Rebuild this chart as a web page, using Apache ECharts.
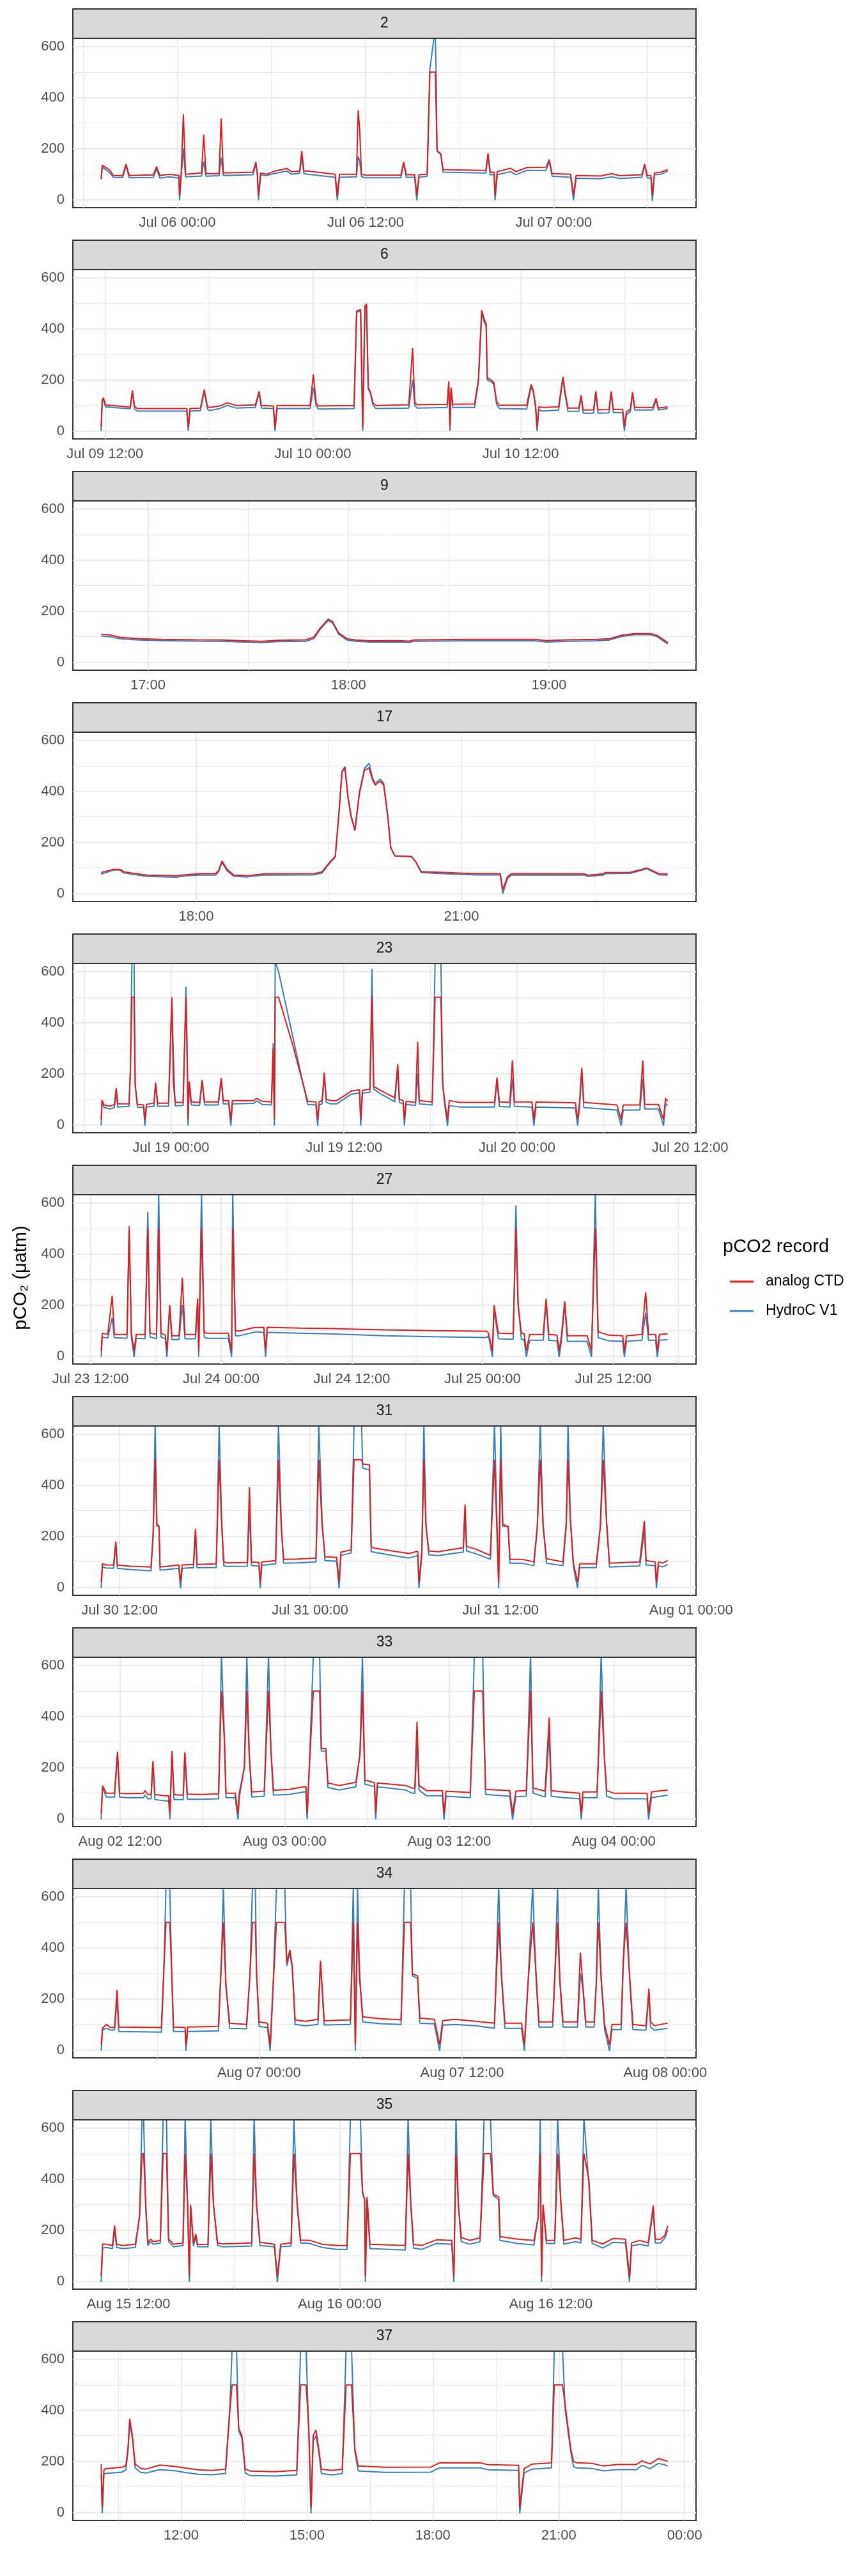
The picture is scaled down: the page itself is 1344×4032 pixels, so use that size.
<!DOCTYPE html>
<html><head><meta charset="utf-8">
<script src="https://cdn.jsdelivr.net/npm/echarts@6/dist/echarts.min.js"></script>
<style>html,body{margin:0;padding:0;background:#fff}#c{width:1344px;height:4032px}</style>
</head><body><div id="c"></div>
<script>
const FONT = '"Liberation Sans", Arial, Helvetica, sans-serif';
const panelIds = ['2','6','9','17','23','27','31','33','34','35','37'];
const seriesNames = ['analog CTD','HydroC V1'];
const seriesColors = ['#E41A1C','#377EB8'];

// rows: [hours from panel reference time, analog CTD pCO2, HydroC V1 pCO2]
const p2 = [[-4.86,82,80],[-4.79,135,128],[-4.72,140,132],[-4.3,115,105],[-4.09,95,88],[-3.49,95,87],[-3.28,140,132],[-3.07,95,86],[-1.54,97,87],[-1.33,130,122],[-1.12,95,85],[-0.5,100,90],[0.1,95,85],[0.14,18,-2],[0.24,100,90],[0.38,335,200],[0.52,100,90],[1.54,105,93],[1.68,255,150],[1.82,102,92],[2.66,102,94],[2.79,318,165],[2.93,105,95],[4.82,108,98],[5.0,148,140],[5.10,105,95],[5.17,18,-2],[5.31,105,97],[5.69,100,95],[6.22,112,103],[6.99,122,112],[7.27,110,100],[7.80,112,104],[7.93,190,165],[8.07,112,102],[8.31,112,100],[10.06,100,88],[10.20,18,-2],[10.34,100,88],[11.42,100,90],[11.53,350,170],[11.63,270,150],[11.74,100,90],[11.98,96,86],[14.25,96,86],[14.43,148,140],[14.60,98,88],[15.13,98,88],[15.27,18,-2],[15.41,98,88],[15.93,100,92],[16.10,500,510],[16.35,500,628],[16.45,500,640],[16.50,500,500],[16.56,192,190],[16.80,180,178],[16.94,118,108],[19.49,115,105],[19.67,115,105],[19.81,182,172],[19.95,108,98],[20.20,108,98],[20.26,18,-2],[20.40,110,98],[21.24,123,110],[21.59,110,98],[22.29,126,115],[23.51,127,115],[23.72,157,150],[23.90,102,92],[25.08,100,88],[25.26,18,-2],[25.43,95,84],[27.0,93,82],[27.70,102,90],[28.2,94,83],[29.62,98,88],[29.80,140,135],[29.97,95,85],[30.20,95,85],[30.29,18,-5],[30.43,105,98],[30.85,108,100],[31.27,118,112]];
const p6 = [[-0.22,15,0],[-0.16,122,118],[-0.09,130,125],[0.03,102,95],[1.23,95,88],[1.46,95,88],[1.58,158,150],[1.71,95,86],[1.87,88,78],[2.82,88,78],[4.72,88,78],[4.81,15,0],[4.91,88,78],[5.51,90,80],[5.73,162,155],[5.92,95,85],[6.05,92,80],[6.62,98,88],[7.06,110,100],[7.57,100,90],[8.68,102,92],[8.90,155,148],[9.03,100,90],[9.72,98,88],[9.82,15,0],[9.94,100,88],[11.84,100,88],[12.03,222,170],[12.19,110,100],[12.32,98,86],[14.38,100,88],[14.53,470,465],[14.76,475,470],[14.88,15,0],[15.01,490,480],[15.10,498,490],[15.20,170,165],[15.32,153,148],[15.48,110,100],[15.64,100,88],[17.54,103,90],[17.76,325,200],[17.89,110,100],[18.02,103,90],[19.76,105,92],[19.85,195,185],[19.92,15,0],[19.98,170,160],[20.08,105,92],[21.34,106,92],[21.56,200,190],[21.75,473,460],[21.88,441,430],[22.01,420,410],[22.07,208,200],[22.29,200,193],[22.45,190,183],[22.61,115,105],[22.77,101,88],[24.35,101,86],[24.60,182,172],[24.73,160,152],[24.86,100,90],[24.95,15,0],[25.05,95,82],[25.30,92,78],[26.19,95,82],[26.44,212,202],[26.57,150,140],[26.73,90,77],[27.36,90,77],[27.49,140,135],[27.61,82,70],[28.21,83,70],[28.34,155,150],[28.47,83,70],[29.10,84,71],[29.23,155,150],[29.35,85,72],[29.89,85,72],[29.99,20,0],[30.11,75,65],[30.33,85,75],[30.46,152,145],[30.59,92,82],[31.63,92,82],[31.82,128,122],[31.95,90,82],[32.49,95,88]];
const p9 = [[-0.233,110,103],[-0.191,107,100],[-0.139,98,92],[-0.046,92,87],[0.069,90,85],[0.245,88,83],[0.370,87,82],[0.453,85,80],[0.567,82,77],[0.650,86,81],[0.785,88,82],[0.827,98,92],[0.858,133,128],[0.899,169,163],[0.920,160,155],[0.951,115,110],[0.993,92,87],[1.034,87,82],[1.107,84,79],[1.242,85,80],[1.304,83,78],[1.325,87,82],[1.595,90,84],[1.927,90,84],[1.990,85,79],[2.093,88,82],[2.239,90,84],[2.301,92,87],[2.363,106,101],[2.426,112,108],[2.509,112,108],[2.540,105,100],[2.592,77,72]];
const p17 = [[-1.074,80,75],[-1.050,85,79],[-0.933,95,92],[-0.862,95,92],[-0.815,85,80],[-0.556,72,67],[-0.226,70,64],[-0.085,75,70],[0.057,78,73],[0.221,78,72],[0.254,90,86],[0.292,127,122],[0.349,95,90],[0.424,73,68],[0.575,70,65],[0.763,77,72],[1.328,78,73],[1.423,85,80],[1.507,121,118],[1.573,146,143],[1.611,300,300],[1.649,475,478],[1.682,493,497],[1.715,380,385],[1.752,300,305],[1.795,247,250],[1.846,392,398],[1.903,483,490],[1.955,492,510],[1.997,443,450],[2.025,425,432],[2.082,440,448],[2.120,425,432],[2.167,300,305],[2.200,179,182],[2.247,147,147],[2.435,145,145],[2.482,125,125],[2.544,86,82],[2.789,83,78],[3.165,78,73],[3.439,78,73],[3.467,15,0],[3.519,65,58],[3.566,78,73],[4.390,77,72],[4.437,72,67],[4.602,77,72],[4.626,82,78],[4.908,83,79],[5.097,100,97],[5.238,77,73],[5.332,77,72]];
const p23 = [[-4.84,20,-3],[-4.78,96,90],[-4.64,78,68],[-4.21,73,62],[-3.92,80,68],[-3.80,143,130],[-3.69,82,70],[-2.91,82,72],[-2.82,200,210],[-2.71,500,640],[-2.56,500,640],[-2.48,150,160],[-2.33,80,70],[-1.90,78,68],[-1.81,20,-3],[-1.70,80,70],[-1.18,85,73],[-1.07,165,160],[-0.92,85,73],[-0.17,85,73],[0.06,500,480],[0.17,160,270],[0.29,88,75],[0.84,88,76],[1.04,500,540],[1.15,170,200],[1.18,20,-3],[1.27,170,160],[1.41,90,78],[1.99,88,76],[2.16,175,170],[2.33,90,78],[3.28,90,78],[3.49,183,175],[3.63,95,82],[4.00,95,82],[4.15,20,-3],[4.26,95,82],[5.73,95,84],[5.96,104,94],[6.31,92,80],[6.97,90,78],[7.09,300,320],[7.17,20,-3],[7.23,500,640],[7.46,500,600],[8.47,308,340],[9.48,92,80],[10.05,90,78],[10.17,20,-3],[10.28,90,78],[10.48,95,82],[10.63,205,190],[10.77,100,88],[11.06,95,82],[11.49,95,82],[11.92,110,98],[12.50,132,120],[13.08,137,125],[13.16,20,-3],[13.28,135,124],[13.80,140,128],[13.94,500,610],[14.06,150,140],[14.52,135,122],[15.38,110,95],[15.52,105,90],[15.73,237,220],[15.84,100,88],[16.10,95,82],[16.19,20,-3],[16.30,92,80],[16.96,88,76],[17.11,325,200],[17.22,95,82],[18.12,90,78],[18.32,500,640],[18.72,500,640],[18.84,160,165],[18.98,95,80],[19.18,20,-3],[19.30,95,75],[19.99,88,70],[22.44,88,70],[22.61,185,175],[22.78,90,72],[23.50,88,70],[23.68,253,180],[23.82,90,72],[25.03,90,70],[25.17,20,-3],[25.32,90,70],[28.05,86,66],[28.20,20,-3],[28.34,90,72],[28.49,223,215],[28.63,88,68],[30.93,78,58],[31.22,20,-3],[31.37,78,58],[32.52,78,58],[32.72,252,180],[32.86,80,62],[33.81,80,62],[34.16,20,-3],[34.30,104,85],[34.45,92,75]];
const p27 = [[-11.02,20,-3],[-10.92,90,75],[-10.42,85,70],[-10.01,236,150],[-9.81,85,72],[-8.65,85,70],[-8.45,500,510],[-8.25,90,75],[-8.00,20,-3],[-7.80,85,70],[-6.99,85,68],[-6.74,500,565],[-6.54,90,75],[-5.94,85,68],[-5.74,500,640],[-5.53,90,75],[-5.13,82,68],[-4.98,20,-3],[-4.73,200,190],[-4.53,80,65],[-3.87,80,65],[-3.57,307,200],[-3.32,85,68],[-2.36,85,68],[-2.16,225,210],[-2.06,20,-3],[-1.81,500,640],[-1.56,95,75],[-1.36,90,70],[0.65,90,70],[0.96,20,-3],[1.06,500,640],[1.31,100,80],[1.66,98,80],[2.92,111,92],[3.32,112,95],[3.92,113,93],[4.08,20,-3],[4.23,113,93],[7.19,110,90],[9.96,108,87],[14.99,103,80],[19.52,100,76],[24.40,97,73],[24.55,90,80],[24.91,20,-3],[25.06,200,180],[25.46,90,68],[26.82,88,66],[27.07,500,590],[27.27,200,210],[27.57,90,66],[27.82,88,64],[28.03,20,-3],[28.33,85,62],[29.58,85,62],[29.84,225,215],[30.09,85,62],[30.84,82,60],[31.04,20,-3],[31.25,80,58],[31.55,215,200],[31.80,80,58],[33.61,80,58],[34.01,20,-3],[34.36,500,640],[34.62,95,72],[35.62,82,60],[36.88,80,58],[37.03,20,-3],[37.23,80,58],[38.64,85,62],[38.99,250,170],[39.25,85,62],[39.90,85,62],[40.05,20,-3],[40.25,85,62],[41.01,88,65]];
const p31 = [[-13.16,20,-3],[-13.08,92,80],[-12.85,88,76],[-12.38,87,75],[-12.24,179,170],[-12.14,87,75],[-11.28,83,70],[-10.02,80,65],[-9.89,200,210],[-9.76,500,640],[-9.65,240,250],[-9.52,240,240],[-9.45,80,68],[-9.05,82,70],[-8.27,88,75],[-8.16,20,-3],[-8.06,88,75],[-7.35,90,77],[-7.22,229,220],[-7.12,90,77],[-5.91,92,78],[-5.73,500,640],[-5.57,250,260],[-5.44,100,85],[-5.26,96,82],[-3.95,97,83],[-3.82,392,300],[-3.69,100,86],[-3.22,97,83],[-3.14,20,-3],[-3.04,100,86],[-2.17,105,92],[-1.99,500,640],[-1.81,230,240],[-1.67,110,95],[-0.81,111,96],[0.37,115,100],[0.55,500,640],[0.76,240,260],[0.94,120,105],[1.67,118,103],[1.83,20,-3],[1.94,138,125],[2.59,147,135],[2.77,500,640],[3.24,500,640],[3.32,483,467],[3.74,480,460],[3.85,158,140],[4.03,154,138],[5.47,140,122],[6.25,133,115],[6.78,142,125],[6.86,20,-3],[7.04,140,125],[7.17,500,640],[7.30,240,250],[7.48,143,128],[8.08,140,125],[9.52,154,137],[9.65,155,138],[9.76,325,290],[9.86,160,143],[10.44,150,132],[11.36,125,110],[11.62,500,640],[11.88,20,-3],[12.01,500,640],[12.14,240,250],[12.48,240,235],[12.59,110,95],[13.32,110,95],[14.10,100,85],[14.31,233,230],[14.50,500,640],[14.68,240,250],[14.89,112,95],[15.93,100,85],[16.14,254,240],[16.25,500,640],[16.40,260,270],[16.59,95,80],[16.85,20,-3],[16.98,92,77],[18.03,92,78],[18.29,242,240],[18.47,500,640],[18.68,250,260],[18.86,95,80],[20.77,100,84],[21.06,260,220],[21.17,105,88],[21.74,100,85],[21.82,20,-3],[21.95,100,85],[22.21,95,80],[22.53,105,90]];
const p33 = [[-13.38,20,-3],[-13.28,129,122],[-13.01,100,85],[-12.41,100,85],[-12.19,262,250],[-12.04,100,85],[-11.50,98,82],[-10.28,100,82],[-10.19,110,92],[-9.98,95,78],[-9.74,95,78],[-9.61,225,215],[-9.46,95,75],[-8.77,90,70],[-8.46,90,70],[-8.37,20,-3],[-8.22,265,255],[-8.07,95,75],[-7.70,92,75],[-7.40,92,75],[-7.28,260,255],[-7.10,96,76],[-6.04,95,76],[-4.82,97,78],[-4.61,500,640],[-4.40,310,330],[-4.28,100,82],[-3.61,100,82],[-3.40,20,-3],[-3.31,100,82],[-2.94,200,200],[-2.76,500,640],[-2.58,240,250],[-2.40,105,85],[-1.49,108,88],[-1.18,500,640],[-1.00,270,260],[-0.82,111,92],[0.33,115,95],[1.40,125,105],[1.55,125,105],[1.64,20,-3],[1.73,130,110],[2.09,500,640],[2.55,500,640],[2.67,275,265],[3.00,275,265],[3.15,140,122],[3.97,130,112],[5.19,142,125],[5.49,250,260],[5.67,500,640],[5.85,150,135],[6.10,148,132],[6.55,140,125],[6.64,20,-3],[6.76,140,125],[6.85,138,122],[8.83,130,112],[9.28,120,100],[9.49,120,100],[9.65,379,300],[9.80,130,112],[10.34,110,90],[11.50,110,90],[11.62,20,-3],[11.77,108,88],[13.53,102,82],[13.83,500,640],[14.44,500,640],[14.65,115,95],[16.41,110,88],[16.62,20,-3],[16.86,108,86],[17.62,110,88],[17.93,500,640],[18.11,120,100],[18.99,108,85],[19.29,396,330],[19.44,110,88],[20.35,105,82],[21.50,100,78],[21.63,20,-3],[21.75,105,82],[22.78,105,82],[23.08,500,640],[23.30,250,260],[23.48,110,88],[23.99,100,78],[26.42,100,78],[26.54,20,-3],[26.75,105,82],[27.93,112,92]];
const p34 = [[-9.33,20,-3],[-9.25,85,78],[-9.03,100,85],[-8.79,88,78],[-8.54,88,78],[-8.39,235,200],[-8.29,90,72],[-5.77,88,70],[-5.64,300,280],[-5.50,500,640],[-5.28,500,640],[-5.15,280,270],[-5.06,90,72],[-4.37,88,72],[-4.32,20,-3],[-4.22,90,72],[-2.40,92,75],[-2.23,350,330],[-2.11,500,640],[-1.96,250,260],[-1.74,105,85],[-0.74,100,83],[-0.54,290,290],[-0.39,500,640],[-0.22,500,640],[-0.15,300,310],[0.00,110,92],[0.49,105,88],[0.66,20,-3],[0.83,250,250],[1.03,500,640],[1.52,500,640],[1.64,342,330],[1.82,392,380],[1.96,330,320],[2.13,117,100],[2.75,112,95],[3.48,120,100],[3.63,350,340],[3.85,115,98],[4.02,115,98],[5.40,118,100],[5.57,500,640],[5.69,20,-3],[5.82,500,640],[5.94,280,300],[6.13,130,110],[7.17,122,103],[8.39,118,100],[8.59,500,640],[8.96,500,640],[9.06,298,290],[9.37,290,280],[9.50,125,105],[10.36,120,102],[10.67,20,-3],[10.85,115,97],[11.58,120,100],[12.81,112,95],[13.91,105,85],[14.16,500,640],[14.33,290,280],[14.53,105,85],[15.51,105,85],[15.68,20,-3],[15.88,250,240],[16.17,500,640],[16.37,300,280],[16.54,110,90],[17.35,110,90],[17.47,280,270],[17.64,500,640],[17.77,280,270],[17.96,110,90],[18.82,110,90],[18.99,381,300],[19.14,250,240],[19.31,110,90],[19.80,110,90],[19.93,260,260],[20.05,500,640],[20.22,280,270],[20.42,100,80],[20.71,20,-3],[20.86,100,80],[21.40,100,80],[21.52,340,330],[21.69,500,640],[21.89,300,290],[22.09,100,80],[22.87,95,77],[23.04,240,220],[23.14,110,90],[23.36,95,77],[24.15,105,85]];
const p35 = [[-13.55,20,-3],[-13.47,146,130],[-13.26,145,132],[-12.91,140,128],[-12.79,218,200],[-12.67,145,132],[-12.32,140,128],[-11.61,145,132],[-11.37,250,260],[-11.23,500,640],[-11.14,500,640],[-11.02,300,290],[-10.90,150,140],[-10.74,165,155],[-10.60,155,145],[-10.19,160,150],[-10.03,500,640],[-9.84,500,640],[-9.72,165,155],[-9.44,145,135],[-8.90,150,140],[-8.78,500,640],[-8.64,300,300],[-8.54,20,-3],[-8.47,300,290],[-8.31,150,138],[-8.17,185,175],[-8.07,144,135],[-7.48,145,135],[-7.32,500,640],[-7.17,300,300],[-6.94,150,140],[-6.65,146,135],[-5.00,150,138],[-4.86,500,640],[-4.72,300,300],[-4.53,152,140],[-3.71,145,135],[-3.54,20,-3],[-3.35,145,135],[-2.76,150,138],[-2.60,500,640],[-2.41,300,290],[-2.22,161,150],[-1.70,160,148],[-0.99,145,132],[-0.17,140,125],[0.42,140,125],[0.61,500,640],[1.18,500,640],[1.30,350,345],[1.42,320,320],[1.46,20,-3],[1.56,330,320],[1.72,145,128],[2.78,142,125],[3.73,140,122],[3.89,500,640],[4.04,308,300],[4.20,145,130],[4.67,140,125],[5.50,162,148],[6.37,160,145],[6.49,20,-3],[6.61,500,640],[6.75,300,290],[6.91,171,155],[7.39,160,145],[7.98,170,155],[8.21,500,640],[8.57,500,640],[8.73,340,335],[9.04,330,320],[9.11,175,160],[10.10,165,148],[11.04,160,142],[11.28,250,250],[11.40,500,640],[11.47,20,-3],[11.56,300,290],[11.75,160,148],[12.22,160,148],[12.39,500,640],[12.58,300,290],[12.74,160,145],[13.05,165,150],[13.40,170,155],[13.71,165,150],[13.88,500,640],[14.16,400,380],[14.35,160,148],[14.94,146,130],[15.53,167,152],[16.24,165,150],[16.47,20,-3],[16.59,150,138],[17.06,160,145],[17.53,150,138],[17.82,296,280],[17.93,165,150],[18.24,165,150],[18.48,180,170],[18.64,217,200]];
const p37 = [[-1.906,190,150],[-1.880,20,-3],[-1.841,165,152],[-1.815,171,155],[-1.423,177,158],[-1.319,183,165],[-1.267,250,240],[-1.227,367,350],[-1.162,300,290],[-1.097,190,175],[-0.966,173,157],[-0.836,170,155],[-0.509,186,168],[-0.118,180,163],[0.078,175,157],[0.405,167,150],[0.731,165,148],[1.058,170,153],[1.162,400,420],[1.214,500,640],[1.319,500,640],[1.371,330,320],[1.449,300,290],[1.528,170,155],[1.645,162,145],[2.233,160,143],[2.755,165,147],[2.847,500,640],[2.977,500,640],[3.043,330,310],[3.095,20,-3],[3.147,300,280],[3.212,323,300],[3.278,250,240],[3.343,169,152],[3.604,165,147],[3.839,170,152],[3.931,500,640],[4.061,500,640],[4.139,250,240],[4.218,182,163],[4.845,177,157],[5.955,178,158],[6.150,194,175],[7.130,194,175],[7.326,187,167],[8.044,185,165],[8.070,20,-3],[8.174,172,155],[8.370,190,170],[8.827,194,175],[8.893,500,640],[9.089,500,640],[9.154,419,400],[9.284,250,240],[9.350,200,180],[9.415,195,175],[9.807,192,172],[10.068,182,163],[10.394,188,168],[10.851,188,168],[10.982,202,185],[11.178,190,172],[11.374,211,192],[11.504,205,188],[11.596,200,182]];
const panelData = [p2,p6,p9,p17,p23,p27,p31,p33,p34,p35,p37];

// x tick positions (hours from each panel's reference time) and their labels
const tickHours = [[0,12,24],[0,12,24],[0,1,2],[0,3],[0,12,24,36],[-12,0,12,24,36],[-12,0,12,24],[-12,0,12,24],[0,12,24],[-12,0,12],[0,3,6,9,12]];
const tickLabels = [
  ['Jul 06 00:00','Jul 06 12:00','Jul 07 00:00'],
  ['Jul 09 12:00','Jul 10 00:00','Jul 10 12:00'],
  ['17:00','18:00','19:00'],
  ['18:00','21:00'],
  ['Jul 19 00:00','Jul 19 12:00','Jul 20 00:00','Jul 20 12:00'],
  ['Jul 23 12:00','Jul 24 00:00','Jul 24 12:00','Jul 25 00:00','Jul 25 12:00'],
  ['Jul 30 12:00','Jul 31 00:00','Jul 31 12:00','Aug 01 00:00'],
  ['Aug 02 12:00','Aug 03 00:00','Aug 03 12:00','Aug 04 00:00'],
  ['Aug 07 00:00','Aug 07 12:00','Aug 08 00:00'],
  ['Aug 15 12:00','Aug 16 00:00','Aug 16 12:00'],
  ['12:00','15:00','18:00','21:00','00:00']
];
const minorHours = [[-6,6,18,30],[-6,6,18,30],[-0.5,0.5,1.5,2.5],[-1.5,1.5,4.5],[-6,6,18,30],[-6,6,18,30,42],[-18,-6,6,18],[-6,6,18,30],[-6,6,18],[-6,6,18],[-1.5,1.5,4.5,7.5,10.5]];
const yTicks = [0,200,400,600];
const yMinor = [100,300,500];

const L = 114, W = 975, H = 265, STEP = 362, STRIP_TOP = 14, STRIP_H = 46;
const grids = [], xAxes = [], yAxes = [], series = [], graphics = [];

panelData.forEach((rows, i) => {
  const t0 = rows[0][0], t1 = rows[rows.length - 1][0], pad = 0.05 * (t1 - t0);
  const xmin = t0 - pad, xmax = t1 + pad;
  const top = STRIP_TOP + STEP * i + STRIP_H;
  grids.push({left: L, top: top, width: W, height: H, show: true, backgroundColor: '#fff', borderColor: '#333333', borderWidth: 2});
  xAxes.push({type: 'value', gridIndex: i, min: xmin, max: xmax,
    axisLine: {show: false}, splitLine: {show: false},
    axisTick: {show: true, customValues: tickHours[i], length: 7, lineStyle: {color: '#333333', width: 2}},
    axisLabel: {show: true, customValues: tickHours[i], margin: 13, color: '#4D4D4D', fontSize: 22, fontFamily: FONT, hideOverlap: false,
      formatter: (v) => { const k = tickHours[i].findIndex(t => Math.abs(t - v) < 1e-6); return k >= 0 ? tickLabels[i][k] : ''; }}
  });
  yAxes.push({type: 'value', gridIndex: i, min: -31, max: 632,
    axisLine: {show: false}, splitLine: {show: false},
    axisTick: {show: true, customValues: yTicks, length: 7, lineStyle: {color: '#333333', width: 2}},
    axisLabel: {show: true, customValues: yTicks, margin: 13, color: '#4D4D4D', fontSize: 22, fontFamily: FONT}
  });
  const gl = [];
  minorHours[i].filter(v => v > xmin && v < xmax).forEach(v => gl.push({xAxis: v, lineStyle: {color: '#EBEBEB', width: 1, type: 'solid'}}));
  yMinor.forEach(v => gl.push({yAxis: v, lineStyle: {color: '#EBEBEB', width: 1, type: 'solid'}}));
  tickHours[i].forEach(v => gl.push({xAxis: v, lineStyle: {color: '#EBEBEB', width: 2, type: 'solid'}}));
  yTicks.forEach(v => gl.push({yAxis: v, lineStyle: {color: '#EBEBEB', width: 2, type: 'solid'}}));
  series.push({type: 'line', xAxisIndex: i, yAxisIndex: i, data: [[xmin, -31]], silent: true, z: 1,
    symbol: 'none', lineStyle: {width: 0, opacity: 0}, tooltip: {show: false},
    markLine: {silent: true, symbol: ['none', 'none'], label: {show: false}, animation: false, z: 1, data: gl}
  });
  // HydroC V1 first, analog CTD drawn on top
  [2, 1].forEach(col => {
    series.push({type: 'line', name: seriesNames[col - 1], xAxisIndex: i, yAxisIndex: i,
      data: rows.map(r => [r[0], r[col]]), showSymbol: false, symbol: 'none', clip: true,
      lineStyle: {color: seriesColors[col - 1], width: 2}, itemStyle: {color: seriesColors[col - 1]},
      z: col === 1 ? 4 : 3, animation: false});
  });
  const sy = STRIP_TOP + STEP * i;
  graphics.push({type: 'rect', shape: {x: L, y: sy, width: W, height: STRIP_H}, style: {fill: '#D9D9D9', stroke: '#333333', lineWidth: 2}, z: 10, silent: true});
  graphics.push({type: 'text', x: L + W / 2, y: sy + STRIP_H / 2, z: 11, silent: true,
    style: {text: panelIds[i], fill: '#1A1A1A', font: '23px ' + FONT, textAlign: 'center', textVerticalAlign: 'middle', verticalAlign: 'middle'}});
});

graphics.push({type: 'text', x: 33, y: 2000, rotation: Math.PI / 2, z: 11, silent: true,
  style: {text: 'pCO\u2082 (\u03bcatm)', fill: '#000', font: '29px ' + FONT, textAlign: 'center', textVerticalAlign: 'middle', verticalAlign: 'middle'}});
graphics.push({type: 'text', x: 1131, y: 1952, z: 11, silent: true,
  style: {text: 'pCO2 record', fill: '#000', font: '29px ' + FONT, textAlign: 'left', textVerticalAlign: 'middle', verticalAlign: 'middle'}});

const chart = echarts.init(document.getElementById('c'), null, {renderer: 'canvas', width: 1344, height: 4032});
chart.setOption({
  animation: false,
  backgroundColor: '#ffffff',
  grid: grids, xAxis: xAxes, yAxis: yAxes, series: series,
  graphic: {elements: graphics},
  legend: {data: seriesNames, orient: 'vertical', left: 1137, top: 1978, itemWidth: 37, itemHeight: 3, itemGap: 0,
    icon: 'rect', selectedMode: false,
    textStyle: {fontSize: 23, color: '#000', fontFamily: FONT, lineHeight: 46, padding: [0, 0, 0, 14]}}
});
</script></body></html>
